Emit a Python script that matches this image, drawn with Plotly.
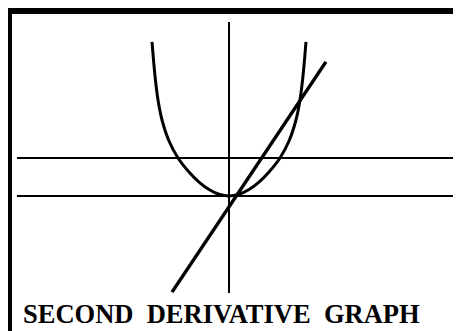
import plotly.graph_objects as go

# Values (data units; origin at the vertex / vertical axis)
curve_x = [-2.026, -1.947, -1.868, -1.763, -1.579, -1.342, -1.053, -0.789, -0.526, -0.263, 0.0,
           0.263, 0.526, 0.789, 1.053, 1.342, 1.579, 1.763, 1.868, 1.947, 2.026]
curve_y = [4.053, 3.158, 2.526, 2.000, 1.447, 1.000, 0.632, 0.368, 0.171, 0.045, 0.0,
           0.045, 0.171, 0.368, 0.632, 1.000, 1.447, 2.000, 2.526, 3.158, 4.053]
line_x = [-1.50, 2.55]
line_y = [-2.53, 3.53]
h_levels = [0.0, 1.0]
h_extent = [-5.58, 6.10]
v_axis_x = 0.0
v_extent = [-2.55, 4.58]
title_text = "SECOND\u00a0\u00a0DERIVATIVE\u00a0\u00a0GRAPH"

# page body has an 8px margin: figure covers screen pixels 8..461 x 8..331
OFF = 8
W, H = 461 - OFF, 331 - OFF
ox, oy, unit = 229 - OFF, 196 - OFF, 38.0
xr = [(0 - ox) / unit, (W - ox) / unit]
yr = [(oy - H) / unit, (oy - 0) / unit]

fig = go.Figure()

for lv in h_levels:
    fig.add_trace(go.Scatter(x=h_extent, y=[lv, lv], mode="lines",
                             line=dict(color="black", width=2), hoverinfo="skip"))

fig.add_trace(go.Scatter(x=[v_axis_x, v_axis_x], y=v_extent, mode="lines",
                         line=dict(color="black", width=2), hoverinfo="skip"))

fig.add_trace(go.Scatter(x=curve_x, y=curve_y, mode="lines",
                         line=dict(color="black", width=3, shape="spline", smoothing=1.0),
                         hoverinfo="skip"))

fig.add_trace(go.Scatter(x=line_x, y=line_y, mode="lines",
                         line=dict(color="black", width=3.5), hoverinfo="skip"))

# frame (left and top thick borders)
fig.add_shape(type="line", xref="paper", yref="paper",
              x0=1 / W, x1=1 / W, y0=0, y1=1,
              line=dict(color="black", width=6))
fig.add_shape(type="line", xref="paper", yref="paper",
              x0=0, x1=1, y0=1 - 3 / H, y1=1 - 3 / H,
              line=dict(color="black", width=6))

fig.add_annotation(text=title_text, xref="paper", yref="paper",
                   x=(21 - OFF) / W, y=1 - (315 - OFF - 1) / H, xanchor="left", yanchor="middle",
                   showarrow=False,
                   font=dict(family="Liberation Serif", size=26.5, color="black", weight="bold"))

fig.update_layout(width=W, height=H, margin=dict(l=0, r=0, t=0, b=0),
                  paper_bgcolor="white", plot_bgcolor="white", showlegend=False,
                  xaxis=dict(range=xr, visible=False, fixedrange=True),
                  yaxis=dict(range=yr, visible=False, fixedrange=True))

fig.write_html("out.html")
